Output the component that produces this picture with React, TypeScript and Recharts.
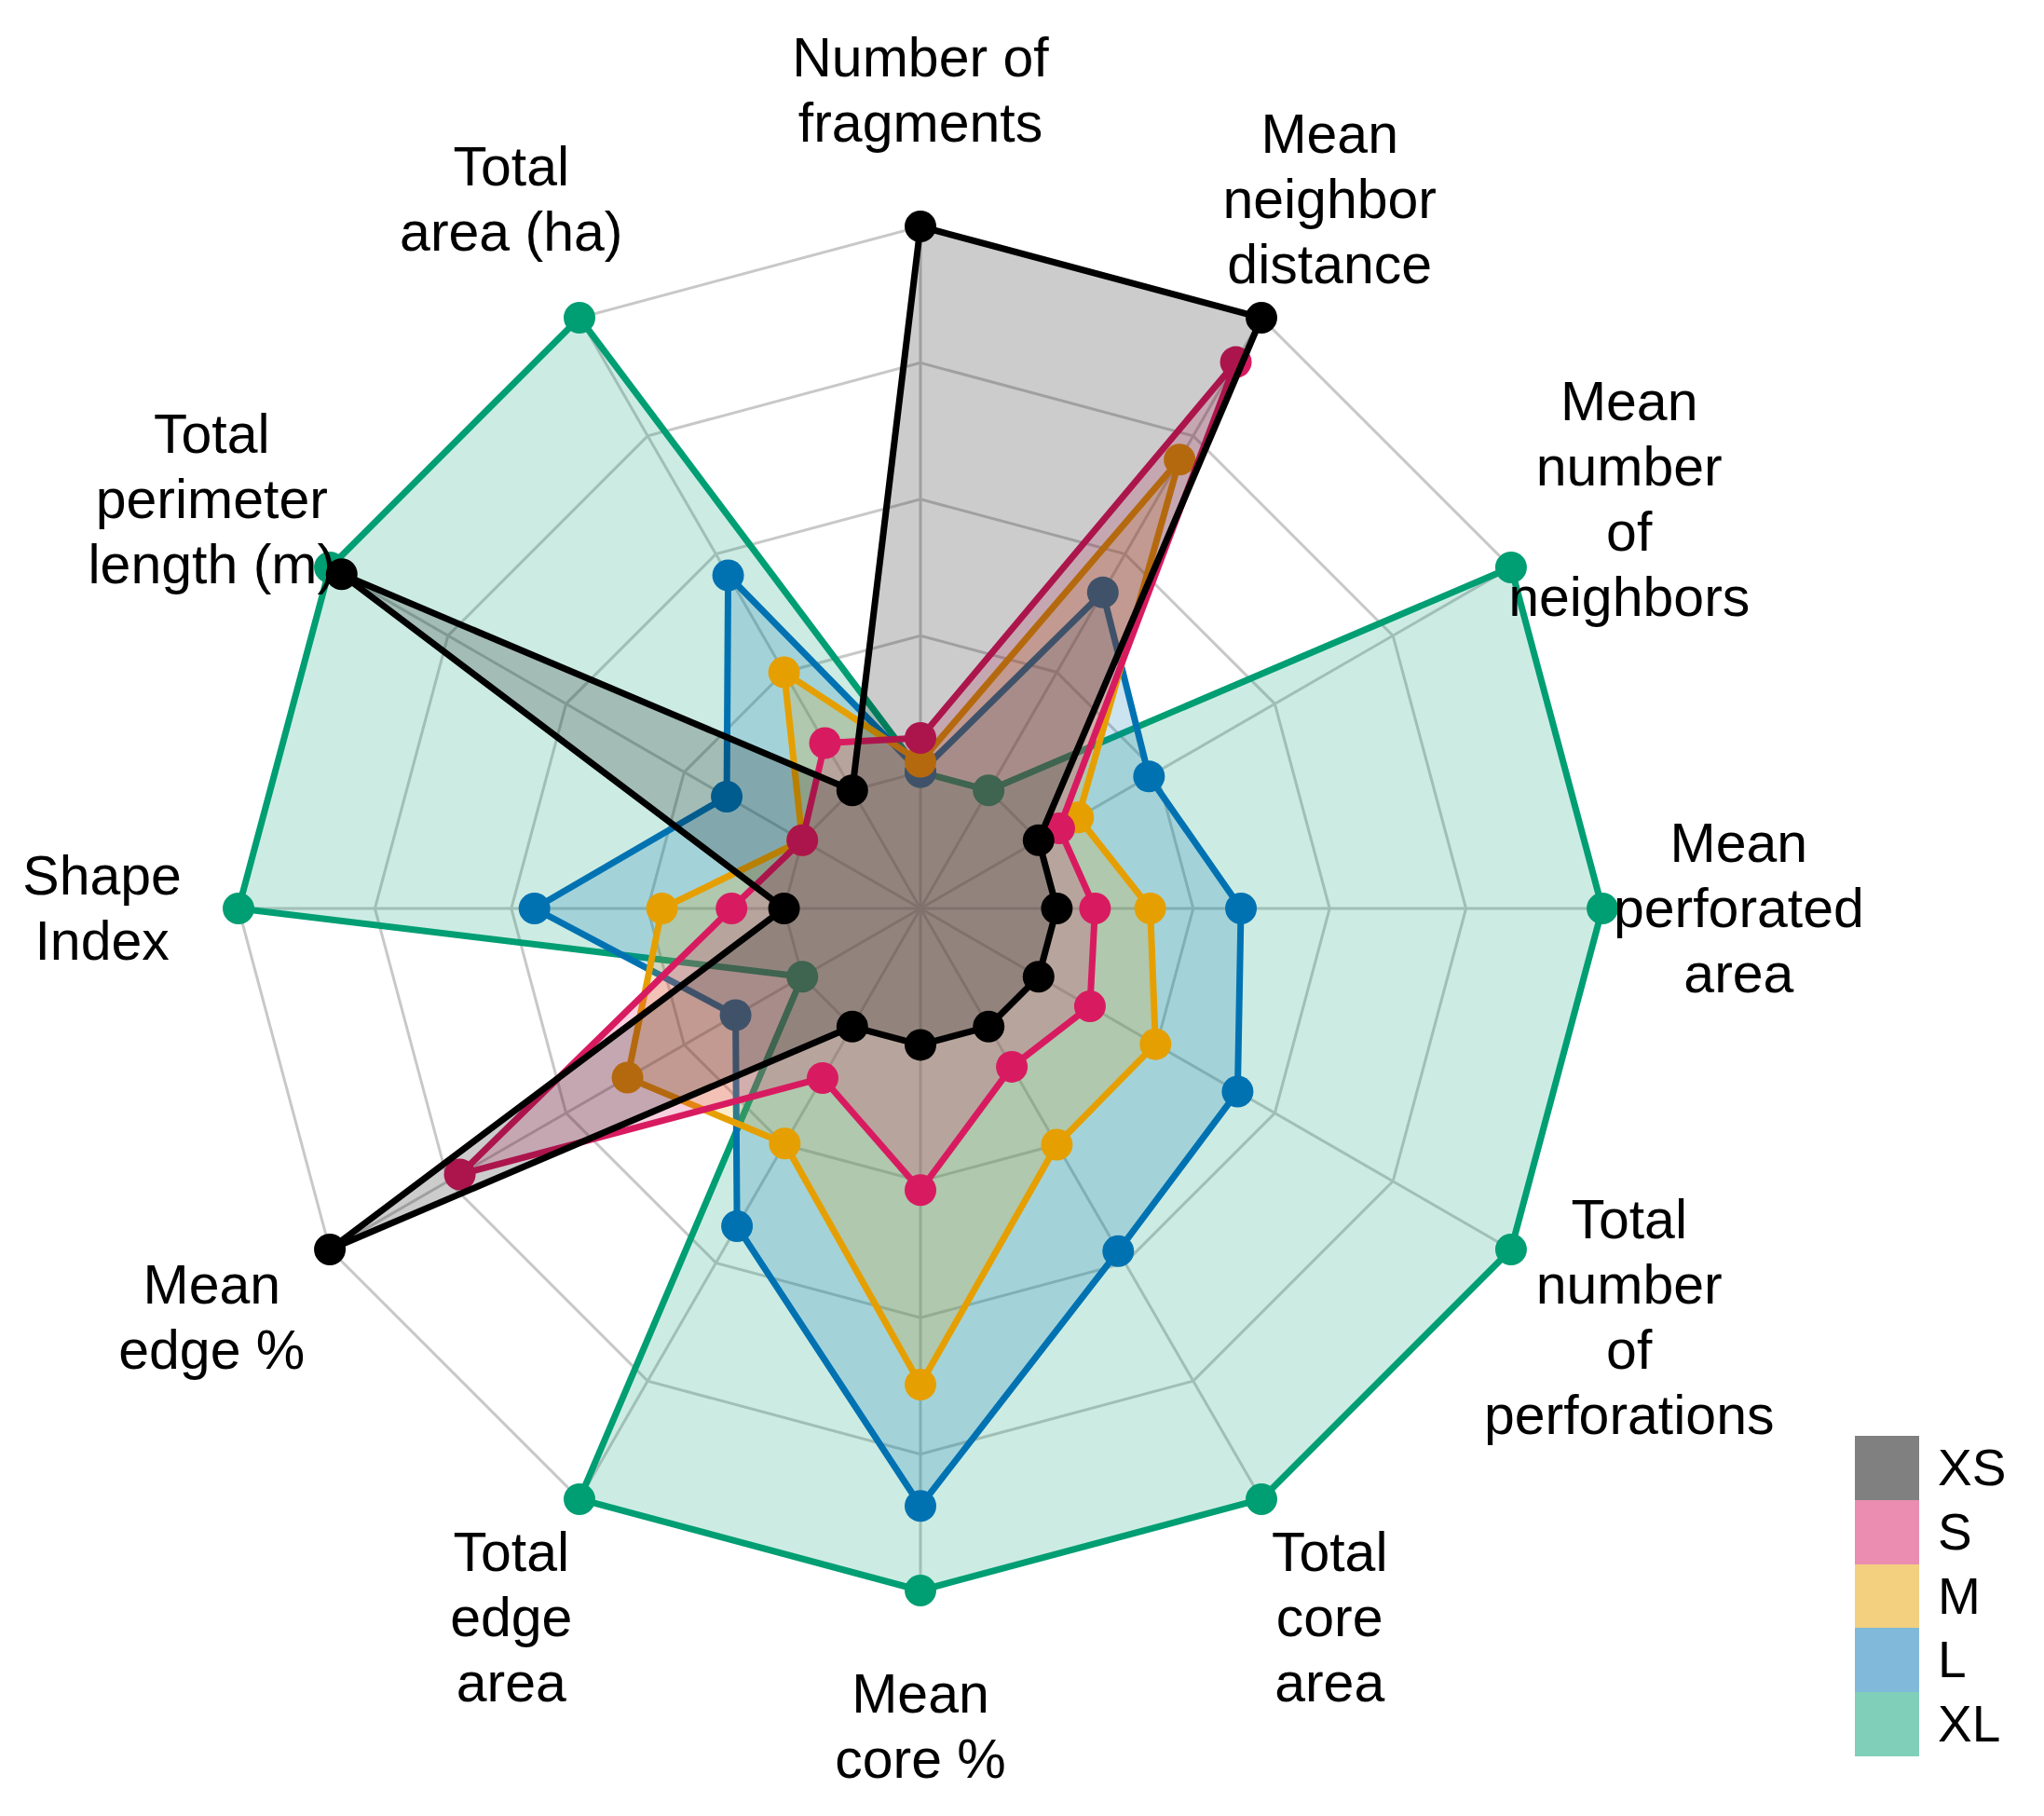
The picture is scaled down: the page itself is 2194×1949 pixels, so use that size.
import { RadarChart, Radar, PolarGrid, PolarAngleAxis, PolarRadiusAxis, Polygon } from 'recharts'

const W = 2194
const H = 1949
const CX = 988
const CY = 975
const R = 732
const FONT = '"Liberation Sans", Arial, sans-serif'

// axes, clockwise from the top
const axes = [
  'Number of\nfragments',
  'Mean\nneighbor\ndistance',
  'Mean\nnumber\nof\nneighbors',
  'Mean\nperforated\narea',
  'Total\nnumber\nof\nperforations',
  'Total\ncore\narea',
  'Mean\ncore %',
  'Total\nedge\narea',
  'Mean\nedge %',
  'Shape\nIndex',
  'Total\nperimeter\nlength (m)',
  'Total\narea (ha)',
]

// scaled values (0 = centre, 1 = outer ring)
const xs = [1.0, 1.0, 0.2, 0.2, 0.2, 0.2, 0.2, 0.2, 1.0, 0.2, 0.98, 0.2]
const s = [0.25, 0.925, 0.235, 0.256, 0.287, 0.268, 0.413, 0.287, 0.78, 0.277, 0.2, 0.28]
const m = [0.215, 0.76, 0.267, 0.337, 0.398, 0.4, 0.698, 0.398, 0.496, 0.379, 0.2, 0.4]
const l = [0.2, 0.535, 0.387, 0.47, 0.537, 0.58, 0.876, 0.538, 0.313, 0.566, 0.328, 0.564]
const xl = [0.2, 0.2, 1, 1, 1, 1, 1, 1, 0.2, 1, 1, 1]

const groups = ['XS', 'S', 'M', 'L', 'XL']
const colors = ['#000000', '#D81B60', '#E69F00', '#0072B2', '#009E73']
const keyColors = ['#808080', '#EB8DB0', '#F3CF80', '#80B9D9', '#80CFB9']
const gridTicks = [0.2, 0.4, 0.6, 0.8, 1.0]

const data = axes.map((axis, i) => ({
  axis,
  XS: xs[i],
  S: s[i],
  M: m[i],
  L: l[i],
  XL: xl[i],
}))

function AxisLabel(props: any) {
  const { x, y, payload } = props
  const dx = x - CX
  const dy = y - CY
  const len = Math.hypot(dx, dy) || 1
  const lx = CX + (dx / len) * R * 1.2
  const ly = CY + (dy / len) * R * 1.2
  const lines = String(payload.value).split('\n')
  return (
    <text x={lx} y={ly} textAnchor="middle" fontSize={59} fill="#000" fontFamily={FONT}>
      {lines.map((t, i) => (
        <tspan key={i} x={lx} y={ly + (i - (lines.length - 1) / 2) * 70 + 20}>
          {t}
        </tspan>
      ))}
    </text>
  )
}

// polygon and its points drawn together, so the next group's fill covers them
function makeShape(color: string) {
  return (props: any) => {
    const pts = props.points || []
    return (
      <g>
        <Polygon
          points={pts}
          stroke={color}
          strokeWidth={7}
          strokeLinejoin="round"
          fill={color}
          fillOpacity={0.2}
        />
        {pts.map((p: any, i: number) => (
          <circle key={i} cx={p.x} cy={p.y} r={17} fill={color} />
        ))}
      </g>
    )
  }
}

export default function App() {
  // draw order: XL at the bottom, XS on top
  const order = [4, 3, 2, 1, 0]
  return (
    <div style={{ position: 'absolute', left: 0, top: 0, width: W, height: H, background: '#fff', fontFamily: FONT }}>
      <RadarChart
        width={W}
        height={H}
        cx={CX}
        cy={CY}
        outerRadius={R}
        data={data}
        margin={{ top: 0, right: 0, bottom: 0, left: 0 }}
      >
        <PolarGrid
          gridType="polygon"
          stroke="#c8c8c8"
          strokeWidth={3}
          polarRadius={gridTicks.map((f) => f * R)}
        />
        <PolarAngleAxis dataKey="axis" tick={<AxisLabel />} tickLine={false} axisLine={false} />
        <PolarRadiusAxis domain={[0, 1]} tickCount={6} tick={false} axisLine={false} />
        {order.map((gi) => (
          <Radar
            key={groups[gi]}
            name={groups[gi]}
            dataKey={groups[gi]}
            stroke={colors[gi]}
            fill={colors[gi]}
            shape={makeShape(colors[gi])}
            dot={false}
            activeDot={false}
            isAnimationActive={false}
          />
        ))}
      </RadarChart>
      <div style={{ position: 'absolute', left: 1991, top: 1541 }}>
        {groups.map((g, i) => (
          <div key={g} style={{ display: 'flex', alignItems: 'center', height: 68.8 }}>
            <div style={{ width: 69, height: 68.8, background: keyColors[i] }} />
            <span style={{ marginLeft: 20, fontSize: 55, color: '#000', lineHeight: '68.8px' }}>{g}</span>
          </div>
        ))}
      </div>
    </div>
  )
}
